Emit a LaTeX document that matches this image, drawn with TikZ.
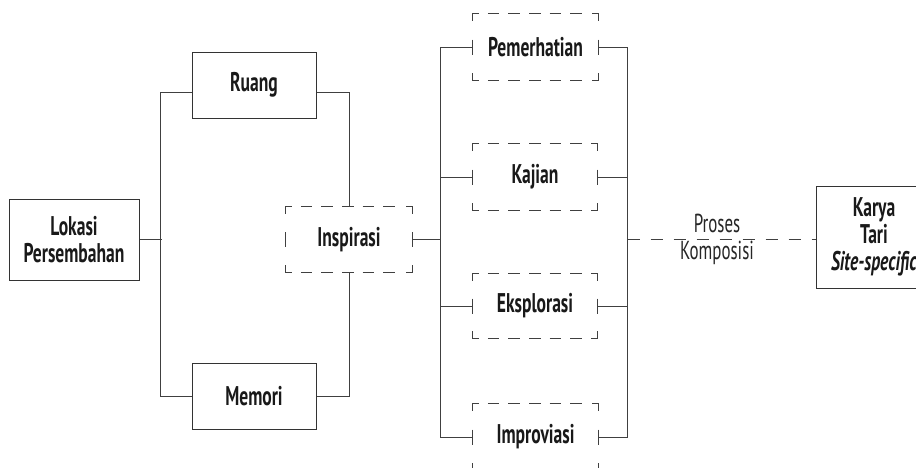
\documentclass[tikz,border=0pt]{standalone}
\usepackage{fontspec}
\setmainfont{PT Sans}[FakeStretch=0.65]
\newcommand\dashedbox[1]{%
 \draw[dline] ([yshift=-7pt]#1.north west) |- ([xshift=6pt]#1.north west);
 \draw[dline] ([yshift=-7pt]#1.north east) |- ([xshift=-6pt]#1.north east);
 \draw[dline] ([yshift=7pt]#1.south west) |- ([xshift=6pt]#1.south west);
 \draw[dline] ([yshift=7pt]#1.south east) |- ([xshift=-6pt]#1.south east);
 \draw[dline, dash pattern=on 11.6pt off 9pt] ([xshift=15pt]#1.north west) -- ([xshift=-15pt]#1.north east);
 \draw[dline, dash pattern=on 11.6pt off 9pt] ([xshift=15pt]#1.south west) -- ([xshift=-15pt]#1.south east);
 \draw[dline] ([yshift=7.5pt]#1.west) -- ([yshift=-7.5pt]#1.west);
 \draw[dline] ([yshift=7.5pt]#1.east) -- ([yshift=-7.5pt]#1.east);
}
\begin{document}
\begin{tikzpicture}[x=1pt,y=-1pt,
  lbl/.style={font=\bfseries\fontsize{27}{27}\selectfont, text=black!90, align=center, inner sep=0pt},
  solidbox/.style={lbl, draw=black!80, line width=1pt, fill=white},
  dbox/.style={lbl},
  dline/.style={draw=black!75, line width=1pt},
  conn/.style={draw=black!75, line width=1pt},
  light/.style={font=\fontsize{26}{26}\selectfont, text=black!85, inner sep=0pt}]
\useasboundingbox (0,0) rectangle (916,467);
\fill[white] (0,0) rectangle (916,467);
% solid boxes
\node[solidbox, minimum width=130pt, minimum height=81pt] (lok) at (74,239.5) {Lokasi\\Persembahan};
\node[solidbox, minimum width=124pt, minimum height=66pt] (ruang) at (254,85) {Ruang};
\node[solidbox, minimum width=124pt, minimum height=66pt] (mem) at (254,396) {Memori};
\node[solidbox, minimum width=116pt, minimum height=102pt] (kar) at (874,237) {Karya\\Tari\\\textit{Site-specific}};
% dashed boxes
\node[dbox, minimum width=126pt, minimum height=65pt] (insp) at (349,239.5) {Inspirasi};
\node[dbox, minimum width=125pt, minimum height=66pt] (pem) at (535.5,47) {Pemerhatian};
\node[dbox, minimum width=124pt, minimum height=66pt] (kaj) at (535,177) {Kajian};
\node[dbox, minimum width=124pt, minimum height=64pt] (eks) at (535,306) {Eksplorasi};
\node[dbox, minimum width=125pt, minimum height=66pt] (imp) at (535.5,437) {Improviasi};
\dashedbox{insp}
\dashedbox{pem}
\dashedbox{kaj}
\dashedbox{eks}
\dashedbox{imp}
% connectors left
\draw[conn] (lok.east) -- ++(22,0);
\draw[conn] ([yshift=-7pt]ruang.west) -- ++(-31,0) |- (mem.west);
\draw[conn] ([yshift=-7pt]ruang.east) -| (insp.north);
\draw[conn] (mem.east) -| (insp.south);
\draw[conn] (insp.east) -- ++(29,0);
% connectors right
\draw[conn] (pem.west) -- ++(-32,0) |- (imp.west);
\draw[conn] (kaj.west) -- ++(-32,0);
\draw[conn] (eks.west) -- ++(-32,0);
\draw[conn] (pem.east) -- ++(29,0) coordinate (rtop) |- (imp.east);
\draw[conn] (kaj.east) -- ++(30,0);
\draw[conn] (eks.east) -- ++(30,0);
\coordinate (rmid) at (627.5,239);
\draw[conn, dash pattern=on 12pt off 11pt] (rmid) -- (kar.west |- rmid);
\node[light] (proses) at (717,223) {Proses};
\node[light] (komp) at (717,253) {Komposisi};
\end{tikzpicture}
\end{document}
